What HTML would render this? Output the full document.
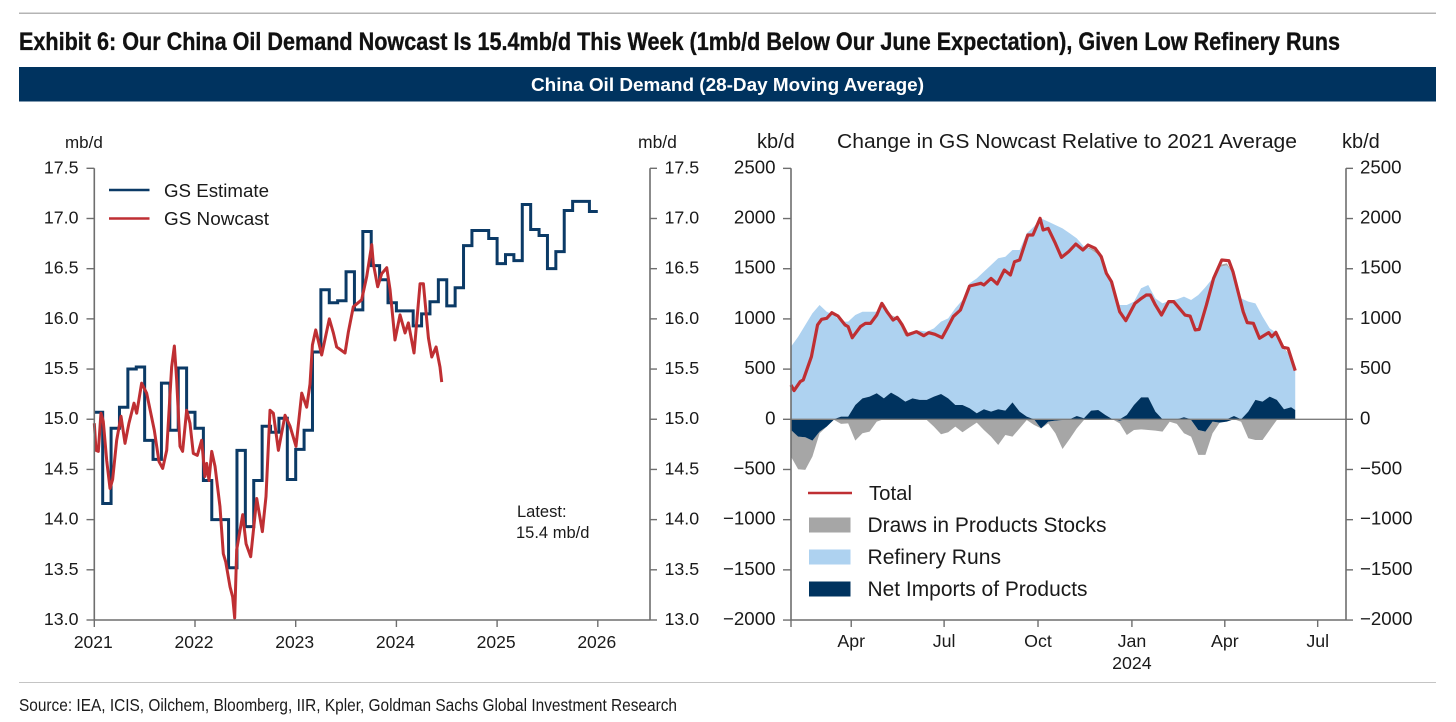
<!DOCTYPE html>
<html lang="en">
<head>
<meta charset="utf-8">
<title>China Oil Demand Exhibit</title>
<style>
html,body{margin:0;padding:0;background:#fff;width:1456px;height:722px;overflow:hidden}
svg{display:block}
text{font-family:"Liberation Sans",Arial,sans-serif;fill:#1a1a1a}
.cond{font-family:"Liberation Sans Narrow","Liberation Sans",Arial,sans-serif}
</style>
</head>
<body>
<svg id="root" xmlns="http://www.w3.org/2000/svg" width="1456" height="722" viewBox="0 0 1456 722">
  <rect x="0" y="0" width="1456" height="722" fill="#ffffff"/>
  <rect x="19" y="12.5" width="1417" height="1.5" fill="#b4b4b4"/>
  <text class="cond" x="19" y="50" font-size="25" font-weight="700" style="fill:#111;stroke:#111;stroke-width:0.35" textLength="1321" lengthAdjust="spacingAndGlyphs">Exhibit 6: Our China Oil Demand Nowcast Is 15.4mb/d This Week (1mb/d Below Our June Expectation), Given Low Refinery Runs</text>
  <rect x="19" y="67" width="1417" height="34.5" fill="#00335f"/>
  <text x="531" y="91" font-size="18" font-weight="700" style="fill:#fff" textLength="393" lengthAdjust="spacingAndGlyphs">China Oil Demand (28-Day Moving Average)</text>

  <g id="left-chart"></g>
  <g id="right-chart"></g>

  <text x="65" y="148" font-size="17">mb/d</text>
  <text x="638" y="148" font-size="17.5">mb/d</text>
  <text x="757" y="148" font-size="20">kb/d</text>
  <text x="1342" y="148" font-size="20">kb/d</text>
  <text x="837" y="148" font-size="20.5" textLength="460" lengthAdjust="spacingAndGlyphs">Change in GS Nowcast Relative to 2021 Average</text>

  <g>
    <line x1="109" x2="149.5" y1="190" y2="190" stroke="#0b3a66" stroke-width="2.6"/>
    <text x="164" y="197" font-size="18" textLength="105" lengthAdjust="spacingAndGlyphs">GS Estimate</text>
    <line x1="109" x2="149.5" y1="218.5" y2="218.5" stroke="#bf2f33" stroke-width="2.6"/>
    <text x="164" y="225" font-size="18" textLength="105" lengthAdjust="spacingAndGlyphs">GS Nowcast</text>
  </g>
  <text x="517" y="517" font-size="16.5">Latest:</text>
  <text x="516" y="538" font-size="16.5">15.4 mb/d</text>

  <g>
    <line x1="808" x2="852" y1="493" y2="493" stroke="#bf2f33" stroke-width="2.6"/>
    <text x="869" y="500" font-size="20.5" textLength="43" lengthAdjust="spacingAndGlyphs">Total</text>
    <rect x="809" y="517.5" width="41.5" height="15" fill="#a6a6a6"/>
    <text x="867.5" y="532" font-size="21" textLength="239" lengthAdjust="spacingAndGlyphs">Draws in Products Stocks</text>
    <rect x="809" y="549.5" width="41.5" height="15" fill="#aed2f0"/>
    <text x="867.5" y="564" font-size="21" textLength="133.5" lengthAdjust="spacingAndGlyphs">Refinery Runs</text>
    <rect x="809" y="581.5" width="41.5" height="15" fill="#00335f"/>
    <text x="867.5" y="596" font-size="21" textLength="220" lengthAdjust="spacingAndGlyphs">Net Imports of Products</text>
  </g>

  <rect x="19" y="682" width="1417" height="1" fill="#c4c4c4"/>
  <text class="cond" x="19" y="711" font-size="17.5" style="fill:#1a1a1a" textLength="658" lengthAdjust="spacingAndGlyphs">Source: IEA, ICIS, Oilchem, Bloomberg, IIR, Kpler, Goldman Sachs Global Investment Research</text>
</svg>

<script>
/* ---------- Left chart data ---------- */
const leftYTicks = [13.0, 13.5, 14.0, 14.5, 15.0, 15.5, 16.0, 16.5, 17.0, 17.5];
const leftXTicks = [2021, 2022, 2023, 2024, 2025, 2026];

/* GS Estimate: one monthly value from Jan 2021 to Dec 2025 */
const estimateStartYear = 2021;
const estimateValues = [
  15.07,14.16,14.91,15.12,15.50,15.52,14.79,14.60,15.36,14.89,15.51,15.07,
  14.91,14.39,14.00,14.00,13.52,14.69,13.93,14.39,14.93,14.87,15.01,14.40,
  14.70,14.89,15.67,16.29,16.16,16.18,16.47,16.09,16.87,16.53,16.39,16.16,
  16.08,16.08,15.93,16.05,16.17,16.39,16.13,16.31,16.73,16.88,16.88,16.80,
  16.55,16.64,16.58,17.14,16.89,16.83,16.50,16.67,17.08,17.17,17.17,17.07
];

/* GS Nowcast: dates as decimal years */
const nowcastDates = [
  2021.000,2021.017,2021.040,2021.066,2021.089,2021.123,2021.156,2021.182,2021.222,2021.265,
  2021.305,2021.344,2021.394,2021.421,2021.470,2021.520,2021.596,2021.642,2021.679,2021.719,
  2021.768,2021.795,2021.818,2021.851,2021.877,2021.917,2021.950,2021.983,2022.023,2022.066,
  2022.099,2022.116,2022.139,2022.166,2022.199,2022.248,2022.281,2022.305,2022.348,2022.374,
  2022.394,2022.414,2022.474,2022.507,2022.553,2022.613,2022.669,2022.705,2022.745,2022.778,
  2022.828,2022.894,2022.944,2023.003,2023.060,2023.109,2023.142,2023.166,2023.199,2023.258,
  2023.334,2023.374,2023.407,2023.490,2023.523,2023.572,2023.655,2023.705,2023.755,2023.771,
  2023.814,2023.854,2023.904,2023.937,2023.986,2024.036,2024.086,2024.119,2024.175,2024.235,
  2024.268,2024.318,2024.351,2024.394,2024.433,2024.450
];
const nowcastValues = [
  14.96,14.69,14.68,15.06,14.98,14.59,14.31,14.40,14.79,15.03,
  14.76,14.96,15.16,15.06,15.36,15.26,14.89,14.58,14.51,14.69,
  15.52,15.73,15.39,14.73,14.68,15.09,14.96,14.66,14.64,14.79,
  14.43,14.56,14.39,14.68,14.53,14.13,13.66,13.58,13.33,13.23,
  13.02,13.70,14.05,13.76,13.63,14.21,13.88,14.23,15.09,15.06,
  14.69,15.04,14.93,14.73,15.26,15.12,15.35,15.74,15.89,15.64,
  16.00,15.86,15.72,15.66,15.87,16.12,16.19,16.42,16.74,16.55,
  16.32,16.45,16.51,16.29,15.79,16.04,15.86,15.96,15.66,16.35,
  16.35,15.81,15.62,15.72,15.52,15.37
];

/* ---------- Right chart data ---------- */
const rightYTicks = [-2000,-1500,-1000,-500,0,500,1000,1500,2000,2500];
/* x ticks in days since 1 Feb 2023 */
const rightXTickDays = [59,150,242,334,425,516];
const rightXTickLabels = ["Apr","Jul","Oct","Jan","Apr","Jul"];
const rightXYearLabel = "2024";

const areaDays = [
  0,7,14,21,28,35,42,49,56,63,70,77,84,91,98,105,112,119,126,133,140,147,154,161,168,175,
  182,189,196,203,210,217,224,231,238,245,252,259,266,273,280,287,294,301,308,315,322,329,336,343,350,
  357,364,371,378,385,392,399,406,413,420,427,434,441,448,455,462,469,476,483,490,494
];
const refineryRuns = [
  724,823,940,1056,1139,1072,1039,946,946,896,863,846,813,921,773,755,651,654,690,680,680,721,797,963,1046,1245,
  1344,1371,1461,1504,1534,1518,1611,1826,1919,2002,1969,1936,1902,1853,1770,1710,1602,1547,1431,1308,1139,1096,1029,1086,1119,
  1129,1155,1182,1195,1202,1189,1238,1315,1404,1517,1534,1405,1205,1096,962,847,680,664,597,504,392
];
const netImports = [
  -106,-173,-179,-212,-123,-73,-5,27,27,143,209,226,259,209,266,226,176,209,193,193,226,252,209,143,143,110,
  60,100,76,100,86,169,76,27,0,-90,-23,-13,-7,-7,33,10,86,93,43,0,-13,43,143,219,219,
  76,0,-7,0,20,-7,-106,-123,-23,-33,-23,33,-7,76,193,176,226,193,100,120,93
];
const productDraws = [
  -266,-325,-325,-159,-17,0,0,-46,-40,-212,-139,-123,-23,25,0,25,30,10,0,-7,-73,-149,-129,-73,-129,-80,
  -33,-106,-173,-256,-156,-173,-90,-7,-56,0,-17,-126,-289,-189,-90,-7,15,30,30,30,-27,-156,-106,-100,-106,
  -113,-123,-17,-46,-139,-166,-249,-232,-116,20,20,0,-17,-189,-206,-206,-106,-7,10,0,0
];

const totalDays = [
  0,3,9,12,20,26,30,35,40,46,53,56,60,68,73,78,84,89,94,100,104,109,114,123,130,135,141,148,153,159,166,
  175,186,189,196,202,209,215,219,224,232,237,244,247,252,259,265,272,279,286,291,298,304,309,314,322,328,
  337,342,348,352,357,363,370,375,386,391,396,400,407,414,422,429,433,443,447,453,459,468,471,475,482,487,494
];
const totalValues = [
  342,286,375,392,624,940,996,1006,1062,1029,940,923,813,923,956,956,1039,1155,1072,989,1016,940,840,873,833,863,847,813,906,1023,1089,
  1328,1355,1338,1404,1348,1487,1438,1570,1587,1836,1836,2002,1886,1902,1753,1613,1670,1746,1687,1736,1703,1620,1454,1371,1072,983,
  1155,1195,1238,1238,1139,1039,1172,1172,1039,1029,890,896,1139,1404,1587,1580,1471,1072,963,956,807,863,823,866,717,707,485
];

/* ---------- Axis functions ---------- */
const NS = "http://www.w3.org/2000/svg";
const AXIS = "#6e6e6e";
const plotTop = 168.3, plotBottom = 620;

const lx = year => 94.3 + (year - 2021) * 100.7;
const ly = v => plotBottom - (v - 13) * (plotBottom - plotTop) / 4.5;
const rx = day => 791 + day * 1.0207;
const ry = v => 419.3 - v * (plotBottom - plotTop) / 4500;

function make(tag, attrs, parent) {
  const el = document.createElementNS(NS, tag);
  for (const k in attrs) el.setAttribute(k, attrs[k]);
  parent.appendChild(el);
  return el;
}
function linePath(xs, ys) {
  return xs.map((x, i) => (i ? "L" : "M") + x.toFixed(2) + " " + ys[i].toFixed(2)).join("");
}
function bandPath(xs, lower, upper) {
  let d = linePath(xs, upper);
  for (let i = xs.length - 1; i >= 0; i--) d += "L" + xs[i].toFixed(2) + " " + lower[i].toFixed(2);
  return d + "Z";
}
function fmtMinus(v) { return String(v).replace("-", "\u2212"); }

const left = document.getElementById("left-chart");
const right = document.getElementById("right-chart");

/* ---------- Left chart marks ---------- */
let estXs = [], estYs = [];
estimateValues.forEach((v, i) => {
  const x0 = lx(estimateStartYear + i / 12), x1 = lx(estimateStartYear + (i + 1) / 12);
  estXs.push(x0, x1);
  estYs.push(ly(v), ly(v));
});
const estLine = make("path", {d: linePath(estXs, estYs), fill: "none", stroke: "#0b3a66", "stroke-width": 3, "stroke-linejoin": "miter"}, left);



const nowLine = make("path", {d: linePath(nowcastDates.map(lx), nowcastValues.map(ly)), fill: "none", stroke: "#bf2f33", "stroke-width": 3, "stroke-linejoin": "round"}, left);



/* Left chart axes */
const lAxisL = make("line", {x1: 94.3, x2: 94.3, y1: plotTop, y2: plotBottom, stroke: AXIS, "stroke-width": 1.6}, left);


const lAxisR = make("line", {x1: 650, x2: 650, y1: plotTop, y2: plotBottom, stroke: AXIS, "stroke-width": 1.6}, left);


const lAxisB = make("line", {x1: 94.3, x2: 650, y1: plotBottom, y2: plotBottom, stroke: AXIS, "stroke-width": 1.6}, left);



leftYTicks.forEach(v => {
  const y = ly(v);
  const t1 = make("line", {x1: 86.5, x2: 94.3, y1: y, y2: y, stroke: AXIS, "stroke-width": 1.4}, left);
  
  
  const t2 = make("line", {x1: 650, x2: 657, y1: y, y2: y, stroke: AXIS, "stroke-width": 1.4}, left);
  
  
  const a = make("text", {x: 78.5, y: y + 5, "font-size": 17.8, "text-anchor": "end"}, left);
  
  
  a.textContent = v.toFixed(1);
  const b = make("text", {x: 664.5, y: y + 5, "font-size": 17.8}, left);
  
  
  b.textContent = v.toFixed(1);
});
leftXTicks.forEach(yr => {
  const x = lx(yr);
  const t = make("line", {x1: x, x2: x, y1: plotBottom, y2: plotBottom + 7, stroke: AXIS, "stroke-width": 1.4}, left);
  
  
  const l = make("text", {x: x - 1, y: 648, "font-size": 17.5, "text-anchor": "middle"}, left);
  
  
  l.textContent = yr;
});

/* ---------- Right chart marks ---------- */
const ax = areaDays.map(rx);
const posImp = netImports.map(v => Math.max(v, 0));
const negImp = netImports.map(v => Math.min(v, 0));
const runsTop = refineryRuns.map((v, i) => posImp[i] + v);
const drawTop = productDraws.map((v, i) => runsTop[i] + Math.max(v, 0));
const drawBottom = productDraws.map((v, i) => negImp[i] + Math.min(v, 0));
const zeros = areaDays.map(() => 0);

const grayPos = make("path", {d: bandPath(ax, runsTop.map(ry), drawTop.map(ry)), fill: "#a6a6a6"}, right);


const grayNeg = make("path", {d: bandPath(ax, negImp.map(ry), drawBottom.map(ry)), fill: "#a6a6a6"}, right);


const blue = make("path", {d: bandPath(ax, posImp.map(ry), runsTop.map(ry)), fill: "#aed2f0"}, right);


const navyPos = make("path", {d: bandPath(ax, zeros.map(ry), posImp.map(ry)), fill: "#00335f"}, right);


const navyNeg = make("path", {d: bandPath(ax, zeros.map(ry), negImp.map(ry)), fill: "#00335f"}, right);



const zeroLine = make("line", {x1: 791, x2: 1346, y1: ry(0), y2: ry(0), stroke: "#7d7d7d", "stroke-width": 1.4}, right);



const totalLine = make("path", {d: linePath(totalDays.map(rx), totalValues.map(ry)), fill: "none", stroke: "#bf2f33", "stroke-width": 3.2, "stroke-linejoin": "round"}, right);



/* Right chart axes */
const rAxisL = make("line", {x1: 791, x2: 791, y1: plotTop, y2: plotBottom, stroke: AXIS, "stroke-width": 1.6}, right);


const rAxisR = make("line", {x1: 1346, x2: 1346, y1: plotTop, y2: plotBottom, stroke: AXIS, "stroke-width": 1.6}, right);


const rAxisB = make("line", {x1: 791, x2: 1346, y1: plotBottom, y2: plotBottom, stroke: AXIS, "stroke-width": 1.6}, right);



rightYTicks.forEach(v => {
  const y = ry(v);
  const t1 = make("line", {x1: 783, x2: 791, y1: y, y2: y, stroke: AXIS, "stroke-width": 1.4}, right);
  
  
  const t2 = make("line", {x1: 1346, x2: 1353, y1: y, y2: y, stroke: AXIS, "stroke-width": 1.4}, right);
  
  
  const a = make("text", {x: 775.5, y: y + 5, "font-size": 18.7, "text-anchor": "end"}, right);
  
  
  a.textContent = fmtMinus(v);
  const b = make("text", {x: 1360, y: y + 5, "font-size": 18.7}, right);
  
  
  b.textContent = fmtMinus(v);
});
const originTick = make("line", {x1: 791, x2: 791, y1: plotBottom, y2: plotBottom + 7, stroke: AXIS, "stroke-width": 1.4}, right);


rightXTickDays.forEach((d, i) => {
  const x = rx(d);
  const t = make("line", {x1: x, x2: x, y1: plotBottom, y2: plotBottom + 7, stroke: AXIS, "stroke-width": 1.4}, right);
  
  
  const l = make("text", {x: x, y: 647, "font-size": 17.8, "text-anchor": "middle"}, right);
  
  
  l.textContent = rightXTickLabels[i];
});
const yearLabel = make("text", {x: rx(rightXTickDays[3]), y: 669, "font-size": 17.8, "text-anchor": "middle"}, right);


yearLabel.textContent = rightXYearLabel;
</script>
</body>
</html>
